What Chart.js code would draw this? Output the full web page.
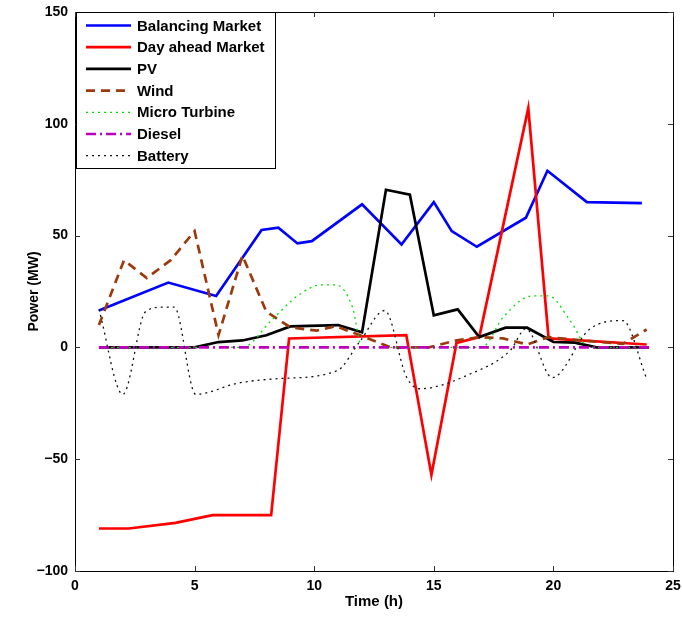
<!DOCTYPE html>
<html lang="en">
<head>
    <meta charset="UTF-8">
    <title>Power schedule</title>
    <script src="https://cdn.jsdelivr.net/npm/chart.js"></script>
    <style>
        body {
            margin: 0;
            background: white;
        }
        #wrap {
            width: 682px;
            height: 619px;
        }
    </style>
</head>
<body>
    <div id="wrap"><canvas id="powerChart" width="682" height="619"></canvas></div>

    <script>
        // values (time in h, power in MW)
        const seriesNames = ['Balancing Market', 'Day ahead Market', 'PV', 'Wind', 'Micro Turbine', 'Diesel', 'Battery'];

        const balancingTime = [1, 3.9, 5.9, 7.8, 8.5, 9.3, 9.9, 12, 13.65, 15, 15.75, 16.8, 18.85, 19.75, 21.4, 23.7];
        const balancingPower = [16.5, 29, 23, 52.5, 53.5, 46.5, 47.5, 64, 46, 65, 52, 45, 58, 79, 65, 64.5];

        const dayAheadTime = [1, 2.25, 4.2, 5.75, 8.2, 8.95, 13.85, 14.9, 15.95, 16.9, 18.95, 19.8, 23.9];
        const dayAheadPower = [-81, -81, -78.5, -75, -75, 4, 5.5, -57, 2, 4.6, 107, 4, 1.3];

        const pvTime = [1, 5, 6, 7, 8, 9, 11, 12, 13, 14, 15, 16, 16.9, 18, 18.9, 20, 20.9, 21.8, 24];
        const pvPower = [0, 0, 2.4, 3.1, 5.4, 9.4, 10, 6.8, 70.5, 68.3, 14.3, 17, 4.6, 8.8, 8.8, 2.4, 2.1, 0, 0];

        const windTime = [1, 2.05, 3, 4, 5, 6, 7, 8, 9, 10.1, 10.9, 11.9, 13.2, 14.8, 15.9, 16.9, 17.9, 18.9, 19.8, 20.9, 22.9, 23.9];
        const windPower = [10, 39, 31, 39, 52, 5.5, 41, 16, 9, 7.5, 9.5, 5.5, 0, 0, 3, 4.6, 4, 1.3, 4.6, 3.4, 1.6, 8];

        const turbineTime = [1, 7, 8.2, 9.3, 10.3, 10.9, 11.6, 12, 17, 17.9, 19.1, 19.8, 20.7, 21.5, 24];
        const turbinePower = [0, 0, 12, 23, 28, 28, 18, 0, 0, 13.5, 23, 23, 12, 0, 0];

        const dieselTime = [1, 24];
        const dieselPower = [0, 0];

        const batteryTime = [1, 2, 2.95, 3.7, 4.15, 5.05, 6.8, 8.45, 10.95, 11.9, 12.95, 13.85, 14.4, 16.5, 18.2, 18.85, 19.95, 21.5, 22.9, 23.9];
        const batteryPower = [17, -21, 16, 18, 18, -21, -16, -14, -10.5, 2.5, 16.5, -13, -18.5, -12, -1.3, 8.3, -13.5, 8, 12, -14];

        const xTicks = [0, 5, 10, 15, 20, 25];
        const yTicks = [-100, -50, 0, 50, 100, 150];

        function toPoints(xs, ys) {
            return xs.map((x, i) => ({ x: x, y: ys[i] }));
        }

        const FONT = "'Liberation Sans', Arial, sans-serif";

        // matlab style ticks pointing inward and a full box
        const boxPlugin = {
            id: 'boxPlugin',
            afterDraw(chart) {
                const { ctx, chartArea: a, scales } = chart;
                ctx.save();
                ctx.strokeStyle = '#000';
                ctx.lineWidth = 1;
                ctx.strokeRect(a.left + 0.5, a.top + 0.5, a.right - a.left, a.bottom - a.top);
                ctx.strokeStyle = '#333';
                ctx.beginPath();
                xTicks.forEach(v => {
                    const px = Math.round(scales.x.getPixelForValue(v)) + 0.5;
                    ctx.moveTo(px, a.bottom); ctx.lineTo(px, a.bottom - 5);
                    ctx.moveTo(px, a.top); ctx.lineTo(px, a.top + 5);
                });
                yTicks.forEach(v => {
                    const py = Math.round(scales.y.getPixelForValue(v)) + 0.5;
                    ctx.moveTo(a.left, py); ctx.lineTo(a.left + 5, py);
                    ctx.moveTo(a.right, py); ctx.lineTo(a.right - 5, py);
                });
                ctx.stroke();

                // legend box in the top-left corner
                const lx = a.left + 1, ly = a.top, lw = 199, lh = 156;
                ctx.fillStyle = 'white';
                ctx.fillRect(lx, ly, lw, lh);
                ctx.strokeStyle = '#000';
                ctx.strokeRect(lx + 0.5, ly + 0.5, lw, lh);
                ctx.font = 'bold 15px ' + FONT;
                ctx.textBaseline = 'middle';
                chart.data.datasets.forEach((ds, i) => {
                    const y = ly + 13.5 + i * 21.7;
                    ctx.save();
                    ctx.strokeStyle = ds.borderColor;
                    ctx.lineWidth = ds.borderWidth;
                    ctx.setLineDash(ds.borderDash || []);
                    ctx.beginPath();
                    ctx.moveTo(lx + 10, y);
                    ctx.lineTo(lx + 55, y);
                    ctx.stroke();
                    ctx.restore();
                    ctx.fillStyle = '#000';
                    ctx.fillText(ds.label, lx + 61, y + 1);
                });
                ctx.restore();
            }
        };

        const styles = [
            { color: '#0000ff', width: 2.7, dash: [] },
            { color: '#ff0000', width: 2.7, dash: [] },
            { color: '#000000', width: 2.7, dash: [] },
            { color: '#9c3a0c', width: 2.7, dash: [9, 6] },
            { color: '#00e000', width: 1.3, dash: [2, 4] },
            { color: '#bf00bf', width: 2.7, dash: [10, 4, 2, 4] },
            { color: '#111111', width: 1.3, dash: [2, 4] }
        ];
        const allTimes = [balancingTime, dayAheadTime, pvTime, windTime, turbineTime, dieselTime, batteryTime];
        const allPowers = [balancingPower, dayAheadPower, pvPower, windPower, turbinePower, dieselPower, batteryPower];
        const smooth = [false, false, false, false, true, false, true];

        const datasets = seriesNames.map((name, i) => ({
            label: name,
            data: toPoints(allTimes[i], allPowers[i]),
            borderColor: styles[i].color,
            borderWidth: styles[i].width,
            borderDash: styles[i].dash,
            pointRadius: 0,
            fill: false,
            cubicInterpolationMode: smooth[i] ? 'monotone' : 'default',
            order: seriesNames.length - i
        }));

        new Chart(document.getElementById('powerChart'), {
            type: 'line',
            data: { datasets: datasets },
            options: {
                responsive: false,
                animation: false,
                layout: { padding: { top: 12, right: 9, left: 0, bottom: 0 } },
                plugins: { legend: { display: false }, tooltip: { enabled: false } },
                scales: {
                    x: {
                        type: 'linear',
                        min: 0, max: 25,
                        afterBuildTicks: s => { s.ticks = xTicks.map(v => ({ value: v })); },
                        afterFit: s => { s.height = 48; s.paddingLeft = 0; s.paddingRight = 0; },
                        grid: { display: false, drawTicks: false },
                        border: { display: false },
                        ticks: { color: '#000', padding: 7, maxRotation: 0, font: { family: FONT, size: 14, weight: 'bold' } },
                        title: { display: true, text: 'Time (h)', color: '#000', padding: { top: 0, bottom: 8 }, font: { family: FONT, size: 15, weight: 'bold' } }
                    },
                    y: {
                        min: -100, max: 150,
                        afterBuildTicks: s => { s.ticks = yTicks.map(v => ({ value: v })); },
                        afterFit: s => { s.width = 75; s.paddingTop = 0; s.paddingBottom = 0; },
                        grid: { display: false, drawTicks: false },
                        border: { display: false },
                        ticks: {
                            color: '#000', padding: 7,
                            font: { family: FONT, size: 14, weight: 'bold' },
                            callback: v => String(v).replace('-', '\u2212')
                        },
                        title: { display: true, text: 'Power (MW)', color: '#000', padding: { top: 26, bottom: 0 }, font: { family: FONT, size: 14, weight: 'bold' } }
                    }
                }
            },
            plugins: [boxPlugin]
        });
    </script>
</body>
</html>
